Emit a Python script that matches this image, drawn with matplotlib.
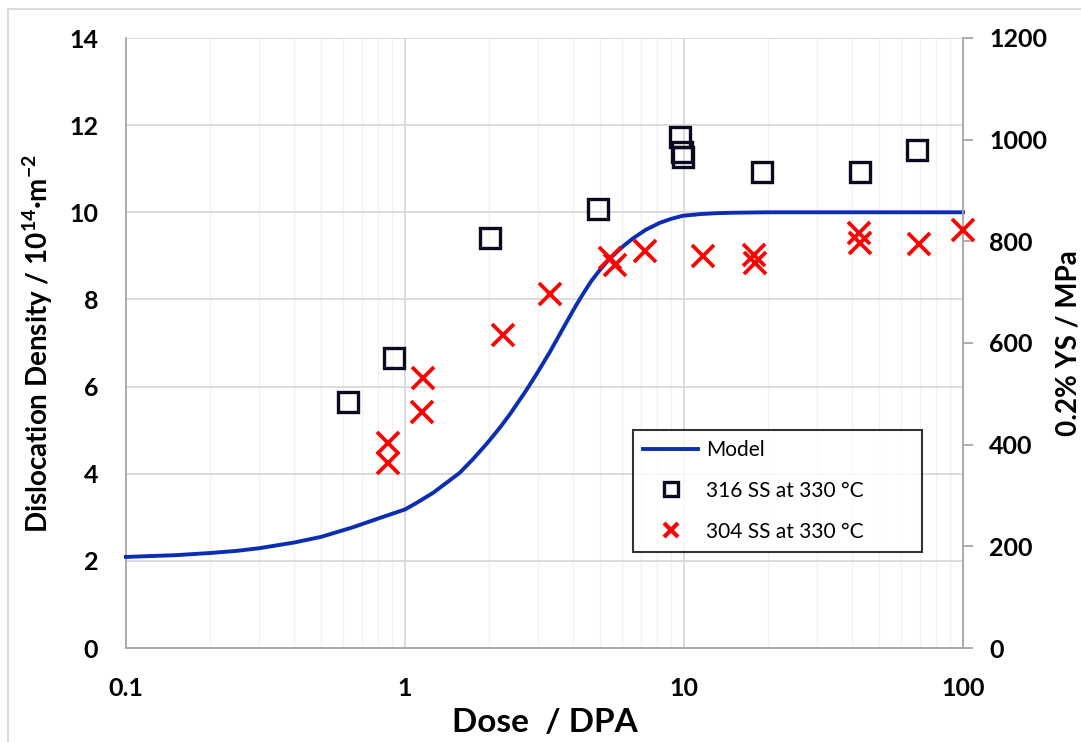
import numpy as np
import matplotlib
matplotlib.use("Agg")
import matplotlib.pyplot as plt
from matplotlib.lines import Line2D

plt.rcParams['font.family'] = ['Lato', 'DejaVu Sans']
plt.rcParams['mathtext.fontset'] = 'custom'
plt.rcParams['mathtext.rm'] = 'Lato:bold'
plt.rcParams['mathtext.it'] = 'Lato:bold'
plt.rcParams['mathtext.bf'] = 'Lato:bold'
plt.rcParams['mathtext.default'] = 'rm'

# model: dislocation density (1e14 m^-2) vs dose (dpa)
model_dose = [0.1, 0.15, 0.2, 0.25, 0.3, 0.4, 0.5, 0.65, 0.8, 1.0, 1.1, 1.26,
              1.4, 1.57, 1.75, 1.97, 2.19, 2.38, 2.73, 2.97, 3.31, 3.55, 3.81,
              4.1, 4.35, 4.65, 5.0, 5.35, 5.75, 6.1, 6.56, 7.3, 8.2, 9.0, 9.9,
              11.5, 13.1, 15, 20, 50, 100]
model_rho = [2.09, 2.13, 2.18, 2.23, 2.29, 2.42, 2.55, 2.77, 2.97, 3.18, 3.33, 3.56,
             3.78, 4.02, 4.33, 4.70, 5.06, 5.37, 5.93, 6.30, 6.80, 7.15, 7.50,
             7.86, 8.13, 8.42, 8.68, 8.90, 9.09, 9.24, 9.40, 9.60, 9.76, 9.85, 9.92,
             9.96, 9.98, 9.99, 10.0, 10.0, 10.0]

# yield strength data (MPa)
ss316_dose = [0.625, 0.914, 2.02, 4.92, 9.7, 9.85, 9.95, 19.1, 42.8, 68.4]
ss316_ys = [484, 570, 807, 864, 1005, 976, 966, 937, 937, 980]

ss304_dose = [0.869, 0.869, 1.16, 1.15, 2.24, 3.31, 5.43, 5.66, 7.24, 11.7,
              17.8, 18.0, 42.4, 42.8, 69.5, 100]
ss304_ys = [403, 364, 531, 464, 616, 696, 767, 753, 781, 771,
            773, 757, 816, 797, 795, 822]

left_ticks = [0, 2, 4, 6, 8, 10, 12, 14]
right_ticks = [0, 200, 400, 600, 800, 1000, 1200]

grid_col = '#d9d9d9'
minor_col = '#f2f2f2'
blue = '#0a2db4'

fig = plt.figure(figsize=(10.81, 7.42), dpi=100)
ax = fig.add_axes([126/1081, 1 - 648/742, (963-126)/1081, (648-38)/742])
ax2 = ax.twinx()

ax.set_xscale('log')
ax.set_xlim(0.1, 100)
ax.set_ylim(0, 14)
ax2.set_ylim(0, 1200)

ax.set_yticks(left_ticks)
ax2.set_yticks(right_ticks)
ax.set_xticks([0.1, 1, 10, 100])
ax.set_xticklabels(['0.1', '1', '10', '100'])

ax.grid(True, which='major', axis='both', color=grid_col, lw=1.3)
ax.grid(True, which='minor', axis='x', color=minor_col, lw=1.0)
ax.set_axisbelow(True)

ax.spines['top'].set_visible(False)
ax2.spines['top'].set_visible(False)
ax.spines['right'].set_visible(False)
ax2.spines['left'].set_visible(False)
ax2.spines['bottom'].set_visible(False)
for sp in [ax.spines['left'], ax.spines['bottom'], ax2.spines['right']]:
    sp.set_color('#a6a6a6')
    sp.set_linewidth(1.3)

ax.tick_params(axis='both', which='both', length=0, labelsize=18)
ax.tick_params(axis='y', pad=20)
ax.tick_params(axis='x', pad=21)
ax2.tick_params(axis='y', length=7, width=1.3, color='#a6a6a6', labelsize=18, pad=12)
for lab in ax.get_xticklabels() + ax.get_yticklabels() + ax2.get_yticklabels():
    lab.set_fontweight('bold')

ax.plot(model_dose, model_rho, color=blue, lw=2.8, zorder=3, clip_on=False,
        solid_joinstyle='round')
ax2.plot(ss316_dose, ss316_ys, ls='none', marker='s', ms=15, mfc='none',
         mec='#0a0a1e', mew=2.4, zorder=4)
ax2.plot(ss304_dose, ss304_ys, ls='none', marker='x', ms=16, mec='#ff0000',
         mew=2.7, zorder=5, clip_on=False)

ax.set_ylabel('Dislocation Density / 10$^{14}$·m$^{-2}$', fontsize=20,
              fontweight='bold', labelpad=10)
ax2.set_ylabel('0.2% YS / MPa', fontsize=20, fontweight='bold', labelpad=6)
ax.set_xlabel('Dose  / DPA', fontsize=24, fontweight='bold', labelpad=6)

handles = [
    Line2D([], [], color=blue, lw=2.8),
    Line2D([], [], ls='none', marker='s', ms=10, mfc='none', mec='#0a0a1e', mew=2.4),
    Line2D([], [], ls='none', marker='x', ms=10, mec='#ff0000', mew=3.0),
]
leg = ax.legend(handles, ['Model', '316 SS at 330 °C', '304 SS at 330 °C'],
                loc='lower left', bbox_to_anchor=((633-126)/837, (648-552)/610,
                                                  (922-633)/837, (552-417)/610),
                mode='expand', fontsize=15, frameon=True, fancybox=False,
                edgecolor='black', handlelength=2.6, labelspacing=1.0,
                borderpad=0.5, handletextpad=0.4, borderaxespad=0)
leg.get_frame().set_linewidth(1.5)
leg.set_zorder(10)

# outer chart border
fig.add_artist(Line2D([8/1081, 8/1081], [0, 1 - 9/742], color=grid_col, lw=1.3))
fig.add_artist(Line2D([8/1081, 1], [1 - 9/742, 1 - 9/742], color=grid_col, lw=1.3))

fig.savefig('out.png', dpi=100)
